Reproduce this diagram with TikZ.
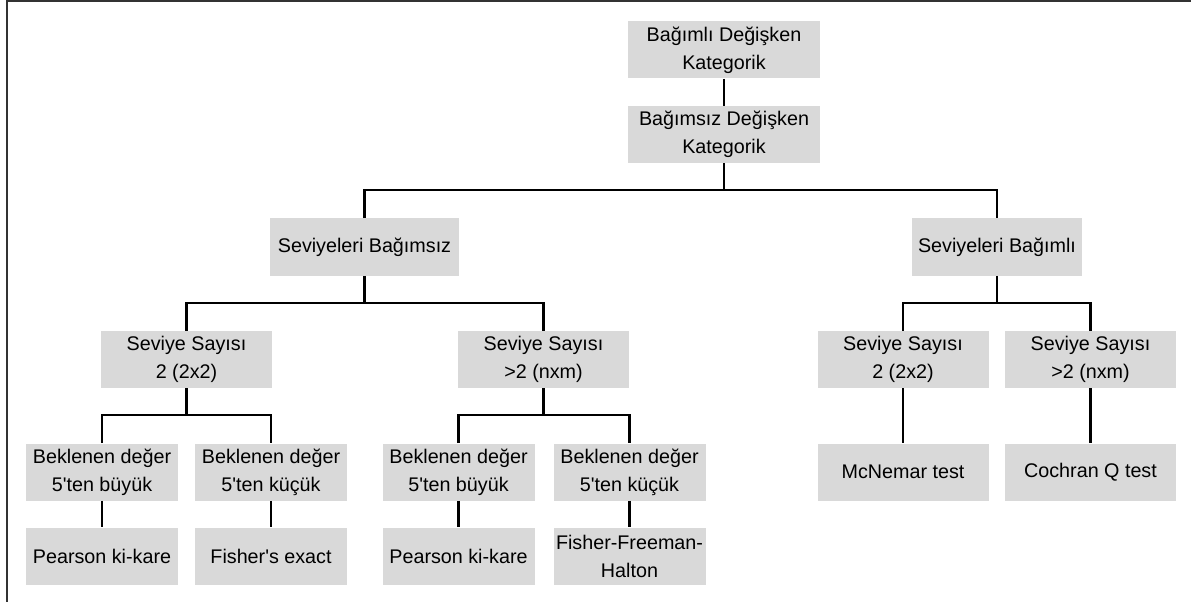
\documentclass[tikz,border=0pt]{standalone}
\usepackage{fontspec}
\setmainfont{Liberation Sans}[Ligatures=TeXOff]

\definecolor{boxgray}{RGB}{217,217,217}
\tikzset{
  box/.style={fill=boxgray, inner sep=0pt, minimum height=42.75pt, align=center,
              font=\fontsize{14.8}{21}\selectfont},
  wide/.style={box, minimum width=144pt},
  mid/.style={box, minimum width=128.25pt},
  small/.style={box, minimum width=114pt},
  link/.style={line width=2.2pt},
  frame/.style={line width=1.1pt, black!80},
}

\begin{document}
\begin{tikzpicture}[x=0.75pt,y=0.75pt,yscale=-1,xscale=1]
\useasboundingbox (0,0) rectangle (1191,602);

%Frame: top and left edges
\draw [frame] (7,602) -- (7,1) -- (1191,1) ;

%Shape: Rectangle [top]
\node [wide] (dep) at (724,50) {Bağımlı Değişken\\Kategorik};
\node [wide] (indep) at (724,134.5) {Bağımsız Değişken\\Kategorik};

%Shape: Rectangle [second level]
\node [box, minimum width=141.75pt] (lvind) at (364.5,247) {Seviyeleri Bağımsız};
\node [box, minimum width=127.5pt] (lvdep) at (997,247) {Seviyeleri Bağımlı};

%Shape: Rectangle [number of levels]
\node [mid] (ind2) at (186.5,359.5) {Seviye Sayısı\\2 (2x2)};
\node [mid] (indn) at (543.5,359.5) {Seviye Sayısı\\>2 (nxm)};
\node [mid] (dep2) at (903,359.5) {Seviye Sayısı\\2 (2x2)};
\node [mid] (depn) at (1090.5,359.5) {Seviye Sayısı\\>2 (nxm)};

%Shape: Rectangle [expected values]
\node [small] (ind2big) at (102,472) {Beklenen değer\\5'ten büyük};
\node [small] (ind2low) at (271,472) {Beklenen değer\\5'ten küçük};
\node [small] (indnbig) at (458.5,472) {Beklenen değer\\5'ten büyük};
\node [small] (indnlow) at (629.5,472) {Beklenen değer\\5'ten küçük};
\node [mid] (mcnemar) at (903,472) {McNemar test};
\node [mid] (cochran) at (1090.5,472) {Cochran Q test};

%Shape: Rectangle [tests]
\node [small] (pearsonA) at (102,556) {Pearson ki-kare};
\node [small] (fisher) at (271,556) {Fisher's exact};
\node [small] (pearsonB) at (458.5,556) {Pearson ki-kare};
\node [small] (ffh) at (629.5,556) {Fisher-Freeman-\\Halton};

%Straight Lines
\coordinate (j1) at (724,190);
\coordinate (j2) at (364.5,303);
\coordinate (j3) at (997,303);
\coordinate (j4) at (186.5,415);
\coordinate (j5) at (543.5,415);

\draw [link] (dep) -- (indep) ;
\draw [link] (indep) -- (j1) ;
\draw [link] (lvind.north) |- (j1) -| (lvdep.north) ;

\draw [link] (lvind) -- (j2) ;
\draw [link] (ind2.north) |- (j2) -| (indn.north) ;
\draw [link] (lvdep) -- (j3) ;
\draw [link] (dep2.north) |- (j3) -| (depn.north) ;

\draw [link] (ind2) -- (j4) ;
\draw [link] (ind2big.north) |- (j4) -| (ind2low.north) ;
\draw [link] (indn) -- (j5) ;
\draw [link] (indnbig.north) |- (j5) -| (indnlow.north) ;
\draw [link] (dep2) -- (mcnemar) ;
\draw [link] (depn) -- (cochran) ;

\draw [link] (ind2big) -- (pearsonA) ;
\draw [link] (ind2low) -- (fisher) ;
\draw [link] (indnbig) -- (pearsonB) ;
\draw [link] (indnlow) -- (ffh) ;

\end{tikzpicture}
\end{document}
